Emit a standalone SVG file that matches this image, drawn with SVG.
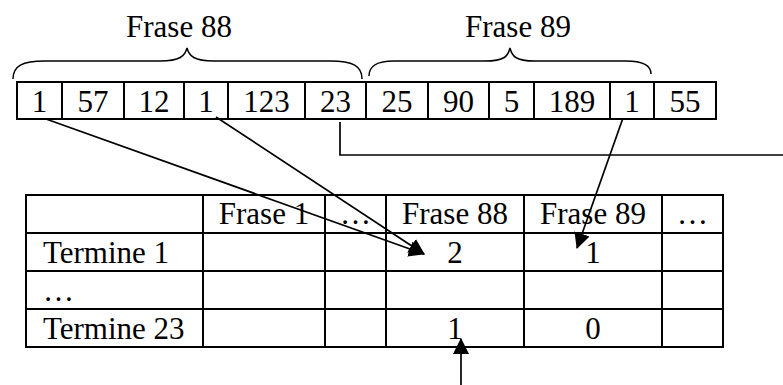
<svg xmlns="http://www.w3.org/2000/svg" width="783" height="385" viewBox="0 0 783 385">
  <style>
    .t { font-family: "Liberation Serif", "Times New Roman", serif; font-size: 31px; fill: #000; }
    .c { text-anchor: middle; }
    .grid { fill: none; stroke: #000; stroke-width: 2; }
    .brace { fill: none; stroke: #000; stroke-width: 1.5; }
    .wire { fill: none; stroke: #000; stroke-width: 1.7; }
  </style>
  <defs>
    <marker id="head" viewBox="0 0 16 16" refX="15" refY="8" markerWidth="16" markerHeight="16" markerUnits="userSpaceOnUse" orient="auto">
      <path d="M0,0 L16,8 L0,16 Z" fill="#000"/>
    </marker>
  </defs>
  <rect width="783" height="385" fill="#fff"/>

  <!-- brace labels -->
  <g id="frase88-brace">
    <text class="t c" x="179" y="37">Frase 88</text>
    <path class="brace" d="M13,79 C13,66 22,61 45,61 L160,61 C180,61 185,56 187,48 C189,56 194,61 214,61 L330,61 C353,61 362,66 362,79"/>
  </g>
  <g id="frase89-brace">
    <text class="t c" x="518" y="37">Frase 89</text>
    <path class="brace" d="M369,76 C369,66 376,61 394,61 L485,61 C505,61 508,56 510,48 C512,56 515,61 535,61 L626,61 C644,61 651,66 651,74"/>
  </g>

  <!-- term sequence -->
  <g id="sequence">
    <rect class="grid" x="17" y="82" width="699" height="37"/>
    <path class="grid" d="M62,82V119 M124,82V119 M184,82V119 M228,82V119 M305,82V119 M366,82V119 M428,82V119 M489,82V119 M534,82V119 M610,82V119 M654,82V119"/>
    <text class="t c" x="39.5" y="112">1</text>
    <text class="t c" x="93" y="112">57</text>
    <text class="t c" x="154" y="112">12</text>
    <text class="t c" x="206" y="112">1</text>
    <text class="t c" x="266.5" y="112">123</text>
    <text class="t c" x="335.5" y="112">23</text>
    <text class="t c" x="397" y="112">25</text>
    <text class="t c" x="458.5" y="112">90</text>
    <text class="t c" x="511.5" y="112">5</text>
    <text class="t c" x="572" y="112">189</text>
    <text class="t c" x="632" y="112">1</text>
    <text class="t c" x="685" y="112">55</text>
  </g>

  <!-- term / sentence matrix -->
  <g id="matrix">
    <rect class="grid" x="26" y="195" width="697" height="152"/>
    <path class="grid" d="M26,233H723 M26,271H723 M26,309H723 M203,195V347 M325,195V347 M386,195V347 M524,195V347 M662,195V347"/>
    <text class="t c" x="264" y="224">Frase 1</text>
    <text class="t c" x="355.5" y="224">…</text>
    <text class="t c" x="455" y="224">Frase 88</text>
    <text class="t c" x="593" y="224">Frase 89</text>
    <text class="t c" x="692.5" y="224">…</text>
    <text class="t" x="43" y="263">Termine 1</text>
    <text class="t" x="43" y="301">…</text>
    <text class="t" x="43" y="339">Termine 23</text>
    <text class="t c" x="455" y="263">2</text>
    <text class="t c" x="593" y="263">1</text>
    <text class="t c" x="455" y="339">1</text>
    <text class="t c" x="593" y="339">0</text>
  </g>

  <!-- connectors -->
  <g id="connectors">
    <line class="wire" x1="46" y1="119" x2="424" y2="254" marker-end="url(#head)"/>
    <line class="wire" x1="216" y1="117" x2="424" y2="254" marker-end="url(#head)"/>
    <line class="wire" x1="623" y1="118" x2="577" y2="248" marker-end="url(#head)"/>
    <path class="wire" d="M340,122V155H783"/>
    <line class="wire" x1="461" y1="385" x2="461" y2="339" marker-end="url(#head)"/>
  </g>
</svg>
